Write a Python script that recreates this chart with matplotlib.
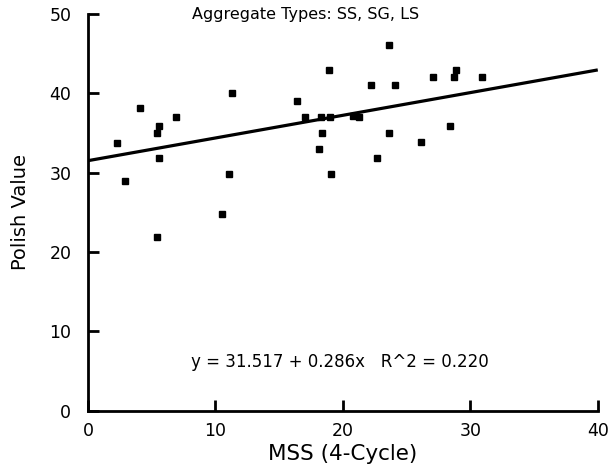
import matplotlib
matplotlib.use("Agg")
import matplotlib.pyplot as plt
import numpy as np

# MSS (4-cycle) vs polish value, aggregate types SS, SG, LS
mss = [2.3, 2.9, 4.1, 5.4, 5.4, 5.6, 5.6, 6.9, 10.5, 11.1, 11.3,
       16.4, 17.0, 18.1, 18.3, 18.4, 18.9, 19.0, 19.1, 20.8, 21.3,
       22.2, 22.7, 23.6, 23.6, 24.1, 26.1, 27.1, 28.4, 28.7, 28.9, 30.9]
polish = [33.8, 29.0, 38.1, 21.9, 35.0, 35.9, 31.8, 37.0, 24.8, 29.8, 40.1,
          39.1, 37.0, 33.0, 37.0, 35.0, 43.0, 37.0, 29.8, 37.1, 37.0,
          41.1, 31.9, 46.1, 35.0, 41.1, 33.9, 42.1, 35.9, 42.1, 43.0, 42.1]

intercept = 31.517
slope = 0.286
r2 = 0.220

x_ticks = [0, 10, 20, 30, 40]
y_ticks = [0, 10, 20, 30, 40, 50]

plt.rcParams['font.family'] = ['DejaVu Sans']

fig = plt.figure(figsize=(6.15, 4.73), dpi=100)
ax = fig.add_axes([0.143, 0.1317, 0.829, 0.8386])

ax.plot(mss, polish, 's', color='black', markersize=4.5, zorder=3)

xl = np.array([0, 40])
ax.plot(xl, intercept + slope * xl, color='black', lw=2.3, solid_capstyle='butt')

ax.set_xlim(0, 40)
ax.set_ylim(0, 50)
ax.set_xticks(x_ticks)
ax.set_yticks(y_ticks)

for s in ['top', 'right']:
    ax.spines[s].set_visible(False)
for s in ['left', 'bottom']:
    ax.spines[s].set_linewidth(2)

ax.tick_params(direction='in', length=8, width=2, labelsize=12.5, pad=12)
ax.tick_params(axis='x', pad=8)

ax.set_xlabel('MSS (4-Cycle)', fontsize=15.5, labelpad=3)
ax.set_ylabel('Polish Value', fontsize=14, labelpad=14)

ax.text(17.1, 49.9, 'Aggregate Types: SS, SG, LS', ha='center', va='center',
        fontsize=11.5)
ax.text(19.8, 6.1, 'y = %.3f + %.3fx   R^2 = %.3f' % (intercept, slope, r2),
        ha='center', va='center', fontsize=12)

fig.savefig('out.png', dpi=100)
